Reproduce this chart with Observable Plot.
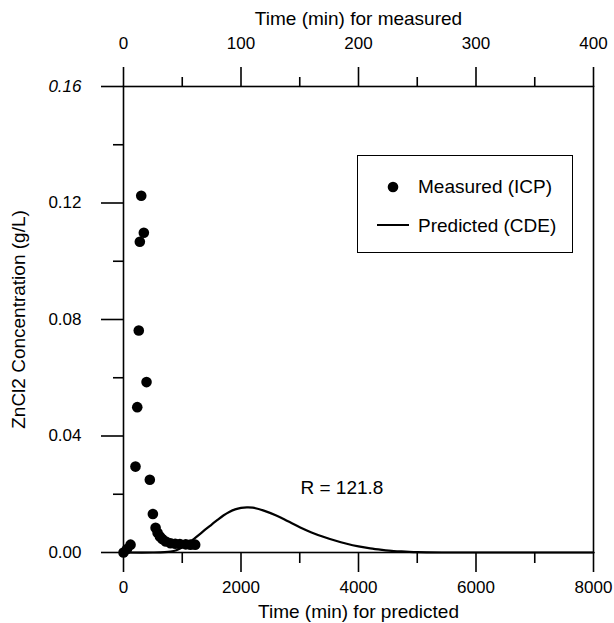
<!DOCTYPE html>
<html>
<head>
<meta charset="utf-8">
<script src="https://cdn.jsdelivr.net/npm/d3@7"></script>
<script src="https://cdn.jsdelivr.net/npm/@observablehq/plot@0.6"></script>
<style>
  html, body { margin: 0; padding: 0; background: #fff; }
  #wrap { position: relative; width: 614px; height: 623px; font-family: "Liberation Sans", Arial, sans-serif; }
  #legend { position: absolute; left: 357px; top: 155px; width: 216px; height: 98px; box-sizing: border-box; border: 1.5px solid #000; background: #fff; }
</style>
</head>
<body>
<div id="wrap"><div id="legend"></div></div>
<script>
// Measured (ICP): time in minutes (top axis), concentration g/L
const measuredTime = [0, 3, 6, 10.2, 11.7, 13, 13.9, 15.1, 17.3, 19.6, 22.4, 25, 27.3, 29, 31, 33, 36, 40, 44, 48, 53, 57, 61];
const measuredConc = [0, 0.0012, 0.0027, 0.0295, 0.0499, 0.0762, 0.1067, 0.1225, 0.1098, 0.0585, 0.025, 0.0132, 0.0085, 0.0068, 0.0055, 0.0046, 0.0038, 0.0032, 0.003, 0.0029, 0.0028, 0.0027, 0.0027];

// Predicted (CDE): time in minutes (bottom axis), concentration g/L
const predictedTime = [0, 500, 700, 800, 900, 1000, 1100, 1200, 1300, 1400, 1500, 1600, 1700, 1800, 1900, 2000, 2100, 2200, 2400, 2600, 2800, 3000, 3200, 3400, 3600, 3800, 4000, 4200, 4400, 4600, 4800, 5000, 5500, 6000, 7000, 8000];
const predictedConc = [0, 0, 0.0001, 0.0003, 0.0008, 0.0018, 0.0032, 0.0047, 0.0063, 0.0080, 0.0096, 0.0112, 0.0127, 0.0139, 0.0148, 0.0153, 0.0155, 0.0154, 0.0143, 0.0127, 0.0107, 0.0087, 0.0069, 0.0054, 0.0041, 0.0030, 0.0021, 0.0014, 0.0009, 0.0005, 0.0003, 0.0001, 0, 0, 0, 0];

// Axis ticks
const bottomMajor = [0, 2000, 4000, 6000, 8000];
const bottomMinor = [1000, 3000, 5000, 7000];
const topMajorLabels = [0, 100, 200, 300, 400];
const topMinorLabels = [50, 150, 250, 350];
const yMajor = [0, 0.04, 0.08, 0.12];
const yTop = [0.16];
const yMinor = [0.02, 0.06, 0.10, 0.14];

const timeRatio = 8000 / 400; // measured axis (top) vs predicted axis (bottom)

const measured = measuredTime.map((t, i) => ({t, c: measuredConc[i]}));
const predicted = predictedTime.map((t, i) => ({t, c: predictedConc[i]}));

const FONT = "Liberation Sans, Arial, sans-serif";
const black = "#000";

const chart = Plot.plot({
  width: 614,
  height: 623,
  marginLeft: 123,
  marginRight: 21,
  marginTop: 86,
  marginBottom: 71,
  style: {fontFamily: FONT, fontSize: "17px", color: black, background: "#fff"},
  x: {domain: [0, 8000]},
  y: {domain: [0, 0.16]},
  marks: [
    Plot.frame({stroke: black, strokeWidth: 1.6}),
    // bottom axis
    Plot.axisX({anchor: "bottom", ticks: bottomMajor, tickSize: 20, tickPadding: 8, strokeWidth: 1.6, tickFormat: d => String(d), label: null, fontSize: 17}),
    Plot.axisX({anchor: "bottom", ticks: bottomMinor, tickSize: 11, strokeWidth: 1.6, tickFormat: () => "", label: null}),
    // top axis (measured time)
    Plot.axisX({anchor: "top", ticks: topMajorLabels.map(d => d * timeRatio), tickSize: 20, tickPadding: 18, strokeWidth: 1.6, tickFormat: d => String(d / timeRatio), label: null, fontSize: 17}),
    Plot.axisX({anchor: "top", ticks: topMinorLabels.map(d => d * timeRatio), tickSize: 10, strokeWidth: 1.6, tickFormat: () => "", label: null}),
    // left axis
    Plot.axisY({anchor: "left", ticks: yMajor, tickSize: 22, tickPadding: 20, strokeWidth: 1.6, tickFormat: d => d.toFixed(2), label: null, fontSize: 17}),
    Plot.axisY({anchor: "left", ticks: yTop, tickSize: 22, tickPadding: 20, strokeWidth: 1.6, tickFormat: d => d.toFixed(2), label: null, fontSize: 17, fontStyle: "italic"}),
    Plot.axisY({anchor: "left", ticks: yMinor, tickSize: 10, strokeWidth: 1.6, tickFormat: () => "", label: null}),
    // axis titles
    Plot.text(["Time (min) for predicted"], {frameAnchor: "bottom", lineAnchor: "middle", dy: 59, text: d => d, fontSize: 19, fill: black}),
    Plot.text(["Time (min) for measured"], {frameAnchor: "top", lineAnchor: "middle", dy: -68, text: d => d, fontSize: 19, fill: black}),
    Plot.text(["ZnCl2 Concentration (g/L)"], {frameAnchor: "left", textAnchor: "middle", lineAnchor: "middle", dx: -105, rotate: -90, text: d => d, fontSize: 19, fill: black}),
    // annotation
    Plot.text(["R = 121.8"], {frameAnchor: "top-left", textAnchor: "start", lineAnchor: "middle", dx: 177, dy: 401, text: d => d, fontSize: 19, fill: black}),
    // data
    Plot.line(predicted, {x: "t", y: "c", stroke: black, strokeWidth: 2.2, curve: "catmull-rom"}),
    Plot.dot(measured, {x: d => d.t * timeRatio, y: "c", r: 5.3, fill: black, stroke: "none"})
  ]
});

document.getElementById("wrap").prepend(chart);

// Legend
const legend = d3.select("#legend").append("svg").attr("width", 213).attr("height", 95)
  .style("font-family", FONT).style("font-size", "19px");
legend.append("circle").attr("cx", 35).attr("cy", 31).attr("r", 5.3).attr("fill", black);
legend.append("text").attr("x", 60).attr("y", 37).text("Measured (ICP)");
legend.append("line").attr("x1", 19).attr("x2", 51).attr("y1", 69).attr("y2", 69).attr("stroke", black).attr("stroke-width", 2);
legend.append("text").attr("x", 60).attr("y", 76).text("Predicted (CDE)");
</script>
</body>
</html>
